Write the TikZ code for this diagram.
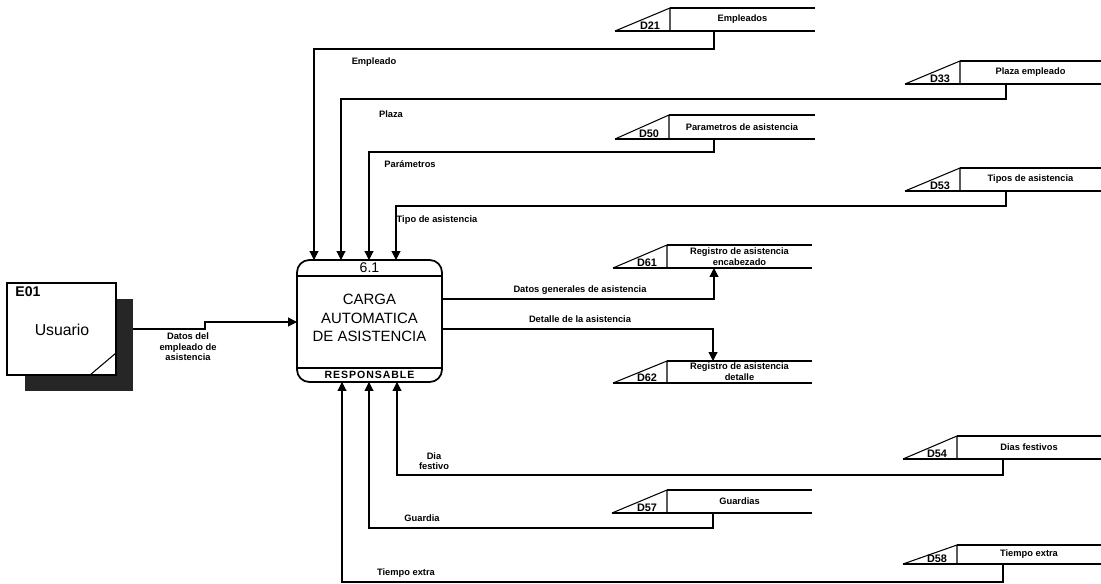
\documentclass[tikz,border=0pt]{standalone}
\usepackage{fontspec}
\setmainfont{Liberation Sans}
\newfontfamily\spacedfont[LetterSpace=9]{Liberation Sans}
\usetikzlibrary{arrows.meta}

\tikzset{
  flow/.style={-{Triangle[width=5pt,length=5pt]}},
  lbl/.style={font=\fontsize{5.3}{6}\selectfont\bfseries,inner sep=0pt,align=center},
  storeid/.style={font=\fontsize{6.2}{7}\selectfont\bfseries,inner sep=0pt},
  storetxt/.style={font=\fontsize{5.3}{6.2}\selectfont\bfseries,inner sep=0pt,align=center},
}

\begin{document}
\begin{tikzpicture}[x=0.02cm,y=-0.02cm,line width=0.6pt]
  \useasboundingbox (0,0) rectangle (1101,584);

  % process 6.1
  \node[draw,line width=1pt,rounded corners=7pt,minimum width=2.9cm,minimum height=2.44cm,inner sep=0pt] (proc) at (369.5,321) {};
  \draw (297,276) -- (442,276);
  \draw (297,368) -- (442,368);
  \node[font=\fontsize{8}{9}\selectfont,inner sep=0pt] (proc-id) at (369.5,268) {6.1};
  \node[font=\fontsize{8.5}{10.5}\selectfont,align=center,inner sep=0pt] (proc-txt) at (369.5,318) {CARGA\\AUTOMATICA\\DE ASISTENCIA};
  \node[font=\spacedfont\fontsize{6}{7}\selectfont\bfseries,inner sep=0pt] (proc-resp) at (369.5,375) {RESPONSABLE};
  \foreach \i/\x in {1/314,2/341,3/369,4/396} \coordinate (top\i) at (\x,260);
  \foreach \i/\x in {1/342,2/369,3/397} \coordinate (bot\i) at (\x,382);
  \coordinate (pin) at (297,322);
  \coordinate (out1) at (442,299);
  \coordinate (out2) at (442,329);

  % entity E01
  \fill[black!85] (25,299) rectangle (133,391);
  \node[draw,fill=white,minimum width=2.18cm,minimum height=1.84cm,inner sep=0pt] (usr) at (61.5,329) {};
  \draw (90,375) -- (116,353);
  \node[font=\fontsize{8}{9}\selectfont\bfseries,inner sep=0pt] (usr-id) at (28,292) {E01};
  \node[font=\fontsize{9}{10}\selectfont,inner sep=0pt] (usr-name) at (62,330) {Usuario};
  \coordinate (usr-out) at (133,329);

  % data stores
  \foreach \id/\a/\b/\t/\u/\e/\c/\txt in {
      D21/615/670/8/31/815/714/Empleados,
      D33/905/960/61/84/1101/1006/Plaza empleado,
      D50/615/669/115/139/815/714/Parametros de asistencia,
      D53/905/960/168/191/1101/1006/Tipos de asistencia,
      D61/613/667/245/268/812/714/{Registro de asistencia\\encabezado},
      D62/613/667/361/383/812/713/{Registro de asistencia\\detalle},
      D54/903/957/436/459/1101/1003/Dias festivos,
      D57/612/667/490/513/812/713/Guardias,
      D58/903/957/545/564/1101/1003/Tiempo extra} {
    \draw (\a,\u) -- (\b,\t) -- (\b,\u);
    \draw (\b,\t) -- (\e,\t);
    \draw (\a,\u) -- (\e,\u);
    \node[storeid] (\id) at (\b-20,\u-5) {\id};
    \node[storetxt] (\id-txt) at ({(\b+\e)/2},{(\t+\u)/2}) {\txt};
    \coordinate (\id-out) at (\c,\u);
    \coordinate (\id-in) at (\c,\t);
  }

  % flows into the process
  \draw[flow] (D21-out) -- ++(0,18) -| (top1);
  \draw[flow] (D33-out) -- ++(0,15) -| (top2);
  \draw[flow] (D50-out) -- ++(0,13) -| (top3);
  \draw[flow] (D53-out) -- ++(0,15) -| (top4);
  \draw[flow] (D54-out) -- ++(0,16) -| (bot3);
  \draw[flow] (D57-out) -- ++(0,15) -| (bot2);
  \draw[flow] (D58-out) -- ++(0,18) -| (bot1);
  \draw[flow] (usr-out) -- (205,329) |- (pin);

  % flows out of the process
  \draw[flow] (out1) -| (D61-out);
  \draw[flow] (out2) -| (D62-in);

  % flow labels
  \node[lbl] (f-empleado) at (374,62) {Empleado};
  \node[lbl] (f-plaza) at (391,114) {Plaza};
  \node[lbl] (f-param) at (410,164) {Parámetros};
  \node[lbl] (f-tipo) at (437,220) {Tipo de asistencia};
  \node[lbl] (f-generales) at (580,290) {Datos generales de asistencia};
  \node[lbl] (f-detalle) at (580,319) {Detalle de la asistencia};
  \node[lbl] (f-dia) at (434,461) {Dia\\festivo};
  \node[lbl] (f-guardia) at (422,518) {Guardia};
  \node[lbl] (f-tiempo) at (406,573) {Tiempo extra};
  \node[lbl] (f-usuario) at (188,347) {Datos del\\empleado de\\asistencia};
\end{tikzpicture}
\end{document}
